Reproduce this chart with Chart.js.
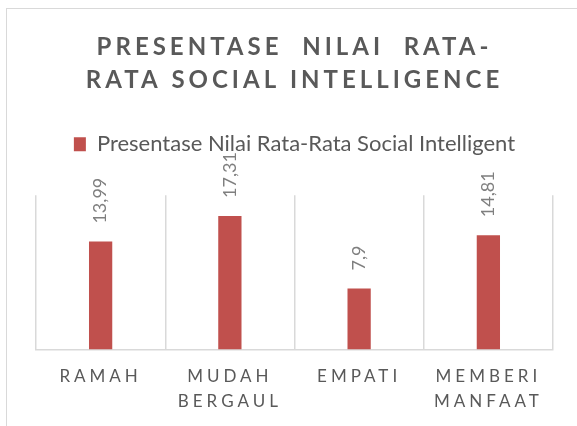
<!DOCTYPE html>
<html><head><meta charset="utf-8">
<script src="https://cdn.jsdelivr.net/npm/chart.js@4/dist/chart.umd.min.js"></script>
<style>
html,body{margin:0;padding:0;background:#fff;overflow:hidden}
#wrap{position:relative;width:577px;height:426px;overflow:hidden}
#frame{position:absolute;left:6px;top:8px;width:700px;height:600px;border-left:1.5px solid #d9d9d9;border-top:1.5px solid #d9d9d9}
canvas{position:absolute;left:0;top:0}
</style></head>
<body><div id="wrap"><div id="frame"></div><canvas id="c" width="577" height="426"></canvas></div>
<script>
const categories = [['RAMAH'], ['MUDAH', 'BERGAUL'], ['EMPATI'], ['MEMBERI', 'MANFAAT']];
const seriesName = 'Presentase Nilai Rata-Rata Social Intelligent';
const values = [13.99, 17.31, 7.9, 14.81];
const titleLines = ['PRESENTASE  NILAI  RATA-', 'RATA SOCIAL INTELLIGENCE'];
const yMin = 0, yMax = 20;

const FONT = "Lato, 'Open Sans', sans-serif";
const valueLabels = values.map(v => String(v).replace('.', ','));

function wrapSpacing(obj, method, spacing) {
  if (!obj || obj['__w_' + method]) return;
  const orig = obj[method];
  obj[method] = function () {
    const ctx = this.ctx || this.chart.ctx;
    ctx.save();
    ctx.letterSpacing = spacing;
    const r = orig.apply(this, arguments);
    ctx.restore();
    return r;
  };
  obj['__w_' + method] = true;
}

const LEGEND_EXTRA = 30;
const layoutPlugin = {
  id: 'layoutTweaks',
  beforeLayout(chart) {
    const lg = chart.legend;
    if (lg && !lg.__wFit) {
      const of = lg.fit;
      lg.fit = function () {
        of.apply(this, arguments);
        this.height += LEGEND_EXTRA;
      };
      lg.__wFit = true;
    }
  },
  beforeDraw(chart) {
    wrapSpacing(chart.titleBlock, 'draw', '4px');
    wrapSpacing(chart.scales.x, 'drawLabels', '4px');
  }
};

const valueLabelPlugin = {
  id: 'valueLabels',
  afterDatasetsDraw(chart) {
    const ctx = chart.ctx;
    const meta = chart.getDatasetMeta(0);
    ctx.save();
    ctx.font = "18px " + FONT;
    ctx.fillStyle = '#7f7f7f';
    ctx.textAlign = 'left';
    ctx.textBaseline = 'middle';
    meta.data.forEach((bar, i) => {
      ctx.save();
      ctx.translate(bar.x, bar.y - 18);
      ctx.rotate(-Math.PI / 2);
      ctx.fillText(valueLabels[i], 0, 0);
      ctx.restore();
    });
    ctx.restore();
  }
};

new Chart(document.getElementById('c'), {
  type: 'bar',
  data: {
    labels: categories,
    datasets: [{
      label: seriesName,
      data: values,
      backgroundColor: '#c0504d',
      borderWidth: 0,
      barPercentage: 0.18,
      categoryPercentage: 1
    }]
  },
  options: {
    responsive: false,
    animation: false,
    layout: { padding: { left: 36, right: 24, top: 0, bottom: 0 } },
    plugins: {
      title: {
        display: true,
        text: titleLines,
        color: '#595959',
        font: { family: FONT, size: 24, weight: 'bold', lineHeight: 1.4 },
        padding: { top: 30, bottom: 26 }
      },
      legend: {
        display: true,
        labels: {
          color: '#595959',
          font: { family: FONT, size: 22 },
          boxWidth: 12,
          boxHeight: 14,
          padding: 10
        }
      },
      tooltip: { enabled: false }
    },
    scales: {
      x: {
        grid: { display: true, color: '#d9d9d9', lineWidth: 1.5, offset: true, drawTicks: false },
        border: { display: true, color: '#d9d9d9', width: 1.5 },
        ticks: {
          color: '#595959',
          font: { family: FONT, size: 17, lineHeight: 1.47 },
          padding: 15,
          maxRotation: 0,
          autoSkip: false
        },
        afterFit(scale) { scale.height = 76.5; }
      },
      y: {
        display: false,
        min: yMin,
        max: yMax
      }
    }
  },
  plugins: [layoutPlugin, valueLabelPlugin]
});
</script>
</body></html>
